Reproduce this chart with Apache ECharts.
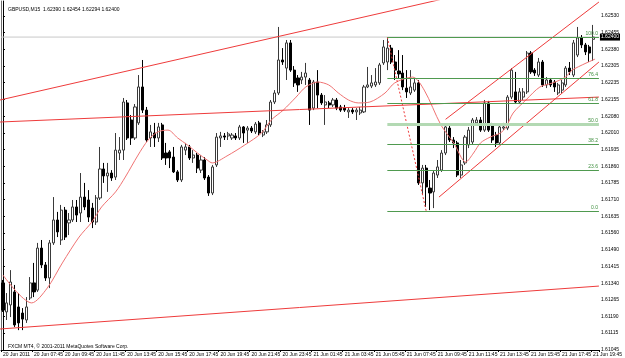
<!DOCTYPE html>
<html><head><meta charset="utf-8">
<script src="https://cdn.jsdelivr.net/npm/echarts@6/dist/echarts.min.js"></script>
<style>html,body{margin:0;padding:0;background:#fff}#c{width:625px;height:358px}</style>
</head><body><div id="c"></div>
<script>
// ---------- data ----------
const symbolText = "GBPUSD,M15";
const titleValues = ["1.62390", "1.62454", "1.62294", "1.62400"];
const copyrightText = "FXCM MT4, \u00a9 2001-2011 MetaQuotes Software Corp.";
const lastClose = 1.62400;

const timeLabels = ["20 Jun 2011","20 Jun 07:45","20 Jun 09:45","20 Jun 11:45","20 Jun 13:45","20 Jun 15:45","20 Jun 17:45","20 Jun 19:45","20 Jun 21:45","20 Jun 23:45","21 Jun 01:45","21 Jun 03:45","21 Jun 05:45","21 Jun 07:45","21 Jun 09:45","21 Jun 11:45","21 Jun 13:45","21 Jun 15:45","21 Jun 17:45","21 Jun 19:45"];
const barsPerLabel = 8;
const barSlots = 154;

const priceTickValues = [1.62494,1.62420,1.62346,1.62271,1.62197,1.62123,1.62048,1.61974,1.61900,1.61825,1.61751,1.61677,1.61603,1.61528,1.61454,1.61380,1.61305,1.61231,1.61157,1.61083,1.61008];
const priceTickLabels = ["1.62530","1.62455","1.62380","1.62305","1.62235","1.62155","1.62080","1.62010","1.61935","1.61860","1.61785","1.61710","1.61635","1.61560","1.61490","1.61415","1.61340","1.61265","1.61190","1.61115","1.61045"];
const priceMin = 1.610075, priceMax = 1.625605;

const opens = [1.61306,1.61177,1.61208,1.61266,1.61199,1.61172,1.61141,1.61239,1.61306,1.61274,
1.61461,1.61386,1.61328,1.61484,1.61586,1.61497,1.61630,1.61573,1.61586,1.61644,
1.61617,1.61688,1.61675,1.61639,1.61577,1.61684,1.61813,1.61782,1.61795,1.61777,
1.61884,1.61897,1.62107,1.62031,1.61951,1.62018,1.62178,1.62075,1.61951,1.61973,
1.61951,1.62009,1.61884,1.61889,1.61866,1.61800,1.61764,1.61897,1.61911,1.61862,
1.61875,1.61808,1.61853,1.61777,1.61706,1.61831,1.61951,1.61960,1.61960,1.61951,
1.61960,1.61951,1.62000,1.61986,1.61995,1.61978,1.62018,1.61964,1.61978,1.62009,
1.62111,1.62151,1.62298,1.62262,1.62374,1.62253,1.62218,1.62209,1.62222,1.62209,
1.62084,1.62200,1.62142,1.62098,1.62107,1.62098,1.62120,1.62089,1.62084,1.62067,
1.62075,1.62067,1.62062,1.62067,1.62178,1.62182,1.62187,1.62196,1.62285,1.62289,
1.62351,1.62289,1.62249,1.62240,1.62173,1.62151,1.62164,1.62196,1.61751,1.61817,
1.61728,1.61711,1.61786,1.61808,1.61884,1.61995,1.61942,1.61929,1.61786,1.61840,
1.61920,1.61933,1.62018,1.62031,1.61986,1.62107,1.62009,1.61964,1.61929,1.61995,
1.61995,1.62133,1.62156,1.62111,1.62133,1.62156,1.62329,1.62253,1.62231,1.62289,
1.62187,1.62209,1.62200,1.62151,1.62164,1.62187,1.62262,1.62231,1.62320,1.62396,
1.62365,1.62356,1.62390];
const highs = [1.61319,1.61261,1.61363,1.61297,1.61261,1.61194,1.61243,1.61332,1.61395,1.61484,
1.61497,1.61399,1.61497,1.61688,1.61622,1.61653,1.61644,1.61617,1.61675,1.61675,
1.61795,1.61751,1.61719,1.61662,1.61697,1.61911,1.61840,1.61840,1.61808,1.61973,
1.61955,1.62129,1.62120,1.62053,1.62102,1.62231,1.62298,1.62089,1.62009,1.62018,
1.62018,1.62018,1.61929,1.61897,1.61911,1.61808,1.61920,1.61929,1.61920,1.61897,
1.61884,1.61875,1.61866,1.61786,1.61831,1.61973,1.61978,1.61973,1.61978,1.61973,
1.61973,1.62009,1.62004,1.62004,1.62004,1.62022,1.62027,1.61986,1.62031,1.62120,
1.62164,1.62445,1.62351,1.62387,1.62387,1.62271,1.62231,1.62245,1.62285,1.62218,
1.62209,1.62253,1.62151,1.62142,1.62116,1.62129,1.62129,1.62098,1.62098,1.62084,
1.62084,1.62084,1.62089,1.62187,1.62267,1.62231,1.62262,1.62285,1.62387,1.62400,
1.62365,1.62320,1.62342,1.62320,1.62253,1.62253,1.62218,1.62209,1.61831,1.61831,
1.61764,1.61808,1.61853,1.61897,1.62009,1.62013,1.61955,1.61938,1.61853,1.61964,
1.62000,1.62040,1.62044,1.62044,1.62120,1.62116,1.62018,1.61978,1.62009,1.62018,
1.62142,1.62262,1.62245,1.62173,1.62173,1.62338,1.62338,1.62262,1.62307,1.62298,
1.62222,1.62218,1.62209,1.62196,1.62209,1.62271,1.62289,1.62387,1.62445,1.62409,
1.62374,1.62365,1.62454];
const lows = [1.61177,1.61141,1.61154,1.61110,1.61096,1.61096,1.61128,1.61230,1.61243,1.61266,
1.61372,1.61315,1.61283,1.61475,1.61510,1.61475,1.61497,1.61519,1.61577,1.61577,
1.61577,1.61630,1.61577,1.61550,1.61564,1.61675,1.61751,1.61711,1.61760,1.61764,
1.61853,1.61853,1.61942,1.61920,1.61942,1.62009,1.62062,1.61933,1.61911,1.61911,
1.61933,1.61853,1.61831,1.61817,1.61795,1.61755,1.61755,1.61875,1.61853,1.61840,
1.61795,1.61795,1.61764,1.61693,1.61697,1.61822,1.61911,1.61942,1.61942,1.61942,
1.61942,1.61942,1.61929,1.61929,1.61973,1.61969,1.61964,1.61955,1.61969,1.62000,
1.62102,1.62142,1.62276,1.62209,1.62245,1.62178,1.62156,1.62191,1.62187,1.62009,
1.62075,1.62084,1.62098,1.62009,1.62084,1.62089,1.62075,1.62067,1.62067,1.62040,
1.62058,1.62031,1.62053,1.62062,1.62173,1.62173,1.62178,1.62187,1.62276,1.62253,
1.62280,1.62209,1.62218,1.62164,1.62129,1.62142,1.62156,1.61742,1.61697,1.61644,
1.61630,1.61639,1.61773,1.61800,1.61875,1.61933,1.61906,1.61777,1.61773,1.61831,
1.61906,1.61924,1.62009,1.61978,1.61978,1.61978,1.61929,1.61911,1.61920,1.61986,
1.61986,1.62124,1.62102,1.62102,1.62120,1.62147,1.62236,1.62227,1.62222,1.62178,
1.62173,1.62178,1.62156,1.62142,1.62151,1.62178,1.62231,1.62222,1.62311,1.62351,
1.62320,1.62289,1.62294];
const closes = [1.61185,1.61217,1.61310,1.61119,1.61128,1.61145,1.61199,1.61306,1.61266,1.61461,
1.61386,1.61328,1.61484,1.61586,1.61533,1.61630,1.61510,1.61586,1.61644,1.61608,
1.61688,1.61644,1.61599,1.61577,1.61684,1.61813,1.61782,1.61795,1.61773,1.61897,
1.61897,1.62111,1.61951,1.61951,1.62089,1.62178,1.62075,1.61942,1.61978,1.61951,
1.62000,1.61862,1.61862,1.61862,1.61800,1.61764,1.61911,1.61911,1.61862,1.61875,
1.61817,1.61853,1.61773,1.61706,1.61822,1.61955,1.61960,1.61955,1.61969,1.61964,
1.61951,1.62000,1.61973,1.61995,1.61982,1.62013,1.61973,1.61978,1.62009,1.62111,
1.62151,1.62298,1.62289,1.62374,1.62253,1.62196,1.62187,1.62222,1.62240,1.62075,
1.62200,1.62142,1.62107,1.62111,1.62098,1.62120,1.62084,1.62075,1.62075,1.62075,
1.62067,1.62075,1.62075,1.62178,1.62187,1.62196,1.62200,1.62276,1.62356,1.62351,
1.62289,1.62253,1.62236,1.62178,1.62156,1.62178,1.62196,1.61751,1.61817,1.61733,
1.61706,1.61795,1.61822,1.61884,1.62000,1.61942,1.61929,1.61786,1.61831,1.61955,
1.61986,1.62031,1.62031,1.61986,1.62107,1.61986,1.61942,1.61929,1.62000,1.62000,
1.62133,1.62253,1.62111,1.62156,1.62156,1.62329,1.62245,1.62240,1.62289,1.62187,
1.62209,1.62187,1.62178,1.62187,1.62196,1.62262,1.62245,1.62374,1.62396,1.62365,
1.62334,1.62329,1.62400];

// moving average, read at points along the red curve (bar position, price)
const maPos = [0,7.4,11.4,15.3,19.6,22.9,25.4,29,31.5,34.8,37.4,39.9,42.5,45,47.5,50.1,52.6,53.9,57.7,62.3,66.6,69.1,72.2,75.5,78,81.1,83.9,86.4,89,91.5,94.5,98.4,100.9,105.5,108.5,112.8,116.1,119.2,121.2,123,125.5,128.1,129.6,131.4,134.7,138.3,141.6,144.9,146.6,152.5];
const maVal = [1.61341,1.61217,1.61283,1.61395,1.61510,1.61577,1.61644,1.61711,1.61777,1.61875,1.61942,1.61978,1.61986,1.61951,1.61920,1.61884,1.61853,1.61840,1.61871,1.61920,1.61973,1.62031,1.62075,1.62133,1.62178,1.62200,1.62187,1.62151,1.62120,1.62107,1.62111,1.62151,1.62196,1.62222,1.62164,1.62009,1.61929,1.61844,1.61884,1.61929,1.61955,1.61973,1.62000,1.62062,1.62120,1.62178,1.62196,1.62222,1.62253,1.62302];

// trend lines: [start bar position, start price, end bar position, end price]
const trendTop = [-0.75, 1.62120, 153.5, 1.62728];
const trendMiddle = [-0.75, 1.62022, 153.5, 1.62133];
const trendBottom = [-0.75, 1.61101, 153.5, 1.61292];
const channelUpper = [114.0, 1.62034, 153.5, 1.62556];
const channelLower = [112.3, 1.61688, 153.5, 1.62289];

// Fibonacci retracement
const fibHighPos = 99, fibHigh = 1.62400;
const fibLowPos = 109, fibLow = 1.61626;
const fibLevels = [0, 23.6, 38.2, 50.0, 61.8, 76.4, 100.0];

// ---------- chart ----------
const FONT = 'Liberation Sans';
const categories = Array.from({length: barSlots}, (_, i) => String(i));
const candleData = opens.map((o, i) => [o, closes[i], lows[i], highs[i]]);
const showLabel = (idx) => idx % barsPerLabel === 0 && idx / barsPerLabel < timeLabels.length;

function seg(t) { return [[t[0], t[1]], [t[2], t[3]]]; }
const redLine = {type: 'line', xAxisIndex: 1, yAxisIndex: 0, symbol: 'none', silent: true,
  lineStyle: {color: '#ee3b3b', width: 1}, clip: true, z: 4};

const fibMark = fibLevels.map(r => {
  const v = fibLow + (fibHigh - fibLow) * r / 100;
  const mid = r === 50;
  return [
    {coord: [fibHighPos, v], lineStyle: {color: mid ? '#b3d9b3' : '#4f9a4f', width: mid ? 3 : 1, type: 'solid'},
     label: {show: true, formatter: r.toFixed(1)}},
    {coord: [barSlots - 0.5, v]}
  ];
});

const option = {
  animation: false,
  backgroundColor: '#ffffff',
  textStyle: {fontFamily: FONT},
  title: [
    {text: symbolText + '  ' + titleValues.join(' '), left: 3, top: 2,
     textStyle: {fontSize: 5, fontWeight: 'normal', color: '#000', fontFamily: FONT}},
    {text: copyrightText, left: 3, top: 339,
     textStyle: {fontSize: 5, fontWeight: 'normal', color: '#000', fontFamily: FONT}}
  ],
  grid: {left: 1, right: 18, top: 1, bottom: 8},
  xAxis: [
    {type: 'category', data: categories, boundaryGap: true,
     axisLine: {show: true, lineStyle: {color: '#000', width: 1}},
     axisTick: {show: true, interval: showLabel, length: 2, lineStyle: {color: '#000'}},
     axisLabel: {interval: showLabel, formatter: (v, idx) => timeLabels[Math.round(idx / barsPerLabel)] || '',
       align: 'left', margin: 2, fontSize: 5, color: '#000', fontFamily: FONT},
     splitLine: {show: false}},
    {type: 'value', min: -0.5, max: barSlots - 0.5, show: false}
  ],
  yAxis: [
    {type: 'value', position: 'right', min: priceMin, max: priceMax,
     axisLine: {show: true, lineStyle: {color: '#000', width: 1}},
     axisTick: {show: true, customValues: priceTickValues, length: 2, lineStyle: {color: '#000'}},
     axisLabel: {customValues: priceTickValues, margin: 2, fontSize: 5, color: '#000', fontFamily: FONT,
       formatter: (v) => { const k = priceTickValues.indexOf(v); return k >= 0 ? priceTickLabels[k] : v.toFixed(5); }},
     splitLine: {show: false}},
    {type: 'value', position: 'left', min: priceMin, max: priceMax,
     axisLine: {show: true, lineStyle: {color: '#6e6e6e', width: 1}},
     axisTick: {show: false}, axisLabel: {show: false}, splitLine: {show: false}}
  ],
  series: [
    Object.assign({}, redLine, {name: 'bid', data: [[-0.5, lastClose], [barSlots - 0.5, lastClose]],
      lineStyle: {color: '#c8c8c8', width: 1}, z: 1, clip: false,
      endLabel: {show: true, formatter: titleValues[3], backgroundColor: '#000', color: '#fff',
         fontSize: 5, padding: [1, 1, 1, 1], distance: 1, fontFamily: FONT}}),
    {type: 'candlestick', xAxisIndex: 0, yAxisIndex: 0, data: candleData, barWidth: 2.6, z: 3,
     itemStyle: {color: '#ffffff', color0: '#000000', borderColor: '#3a3a3a', borderColor0: '#000000', borderWidth: 1}},
    Object.assign({}, redLine, {name: 'MA', data: maPos.map((p, i) => [p, maVal[i]]), smooth: 0.3,
      lineStyle: {color: '#f07373', width: 1}}),
    Object.assign({}, redLine, {data: seg(trendTop)}),
    Object.assign({}, redLine, {data: seg(trendMiddle)}),
    Object.assign({}, redLine, {data: seg(trendBottom)}),
    Object.assign({}, redLine, {data: seg(channelUpper)}),
    Object.assign({}, redLine, {data: seg(channelLower)}),
    Object.assign({}, redLine, {data: [[fibHighPos, fibHigh], [fibLowPos, fibLow]],
      lineStyle: {color: '#ee3b3b', width: 1, type: [2, 2]},
      markLine: {silent: true, symbol: ['none', 'none'], animation: false, data: fibMark,
        label: {show: true, position: 'insideEndTop', color: '#3f8f3f', fontSize: 5, distance: [1, 1], fontFamily: FONT}}})
  ]
};
const chart = echarts.init(document.getElementById('c'));
chart.setOption(option);
</script></body></html>
